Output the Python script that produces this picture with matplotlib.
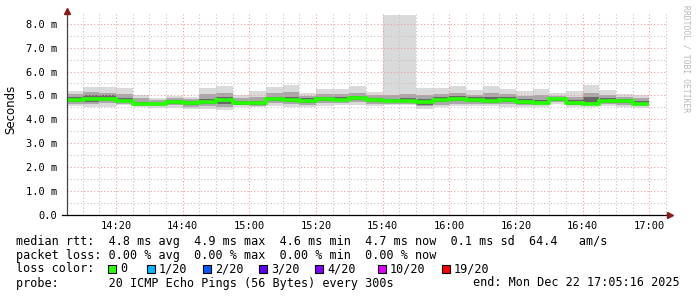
import matplotlib
matplotlib.use('Agg')

import matplotlib.pyplot as plt
from matplotlib.patches import Rectangle
from matplotlib.ticker import FixedLocator, FuncFormatter
import numpy as np

# time axis in minutes after midnight, 5 minute bins (first one partial)
t_start = 14 * 60 + 5 + 16 / 60.0
t_end = 17 * 60 + 5 + 16 / 60.0
bin_edges = [t_start] + list(range(14 * 60 + 10, 17 * 60 + 1, 5))

# median rtt per bin (ms)
median_ms = [4.81, 4.85, 4.87, 4.78, 4.63, 4.63, 4.72, 4.68, 4.73, 4.80, 4.69,
             4.68, 4.85, 4.81, 4.78, 4.85, 4.83, 4.91, 4.83, 4.78, 4.78, 4.72,
             4.80, 4.85, 4.83, 4.78, 4.81, 4.74, 4.68, 4.85, 4.69, 4.63, 4.78,
             4.78, 4.65]
# smoke: max / min ping
ping_max = [5.19, 5.37, 5.37, 5.31, 5.02, 4.90, 4.98, 4.95, 5.33, 5.41, 5.02,
            5.19, 5.34, 5.44, 5.09, 5.27, 5.27, 5.40, 5.15, 8.37, 8.37, 5.31,
            5.31, 5.40, 5.23, 5.40, 5.27, 5.19, 5.27, 5.09, 5.19, 5.44, 5.23,
            5.06, 5.02]
ping_min = [4.56, 4.53, 4.53, 4.60, 4.53, 4.48, 4.49, 4.43, 4.43, 4.39, 4.52,
            4.50, 4.56, 4.53, 4.50, 4.56, 4.60, 4.62, 4.56, 4.60, 4.60, 4.45,
            4.53, 4.56, 4.56, 4.56, 4.53, 4.50, 4.53, 4.64, 4.50, 4.53, 4.56,
            4.50, 4.47]
# middle smoke band
ping_hi2 = [5.05, 5.15, 5.12, 5.05, 4.88, 4.82, 4.90, 4.86, 5.05, 5.10, 4.88,
            4.95, 5.10, 5.15, 4.98, 5.05, 5.05, 5.12, 5.00, 5.00, 5.05, 5.02,
            5.05, 5.12, 5.02, 5.10, 5.05, 4.98, 5.00, 4.98, 4.95, 5.10, 5.02,
            4.95, 4.88]
ping_lo2 = [4.65, 4.65, 4.68, 4.66, 4.57, 4.55, 4.58, 4.53, 4.55, 4.52, 4.58,
            4.57, 4.68, 4.65, 4.62, 4.68, 4.68, 4.72, 4.66, 4.66, 4.66, 4.56,
            4.62, 4.66, 4.66, 4.64, 4.64, 4.60, 4.60, 4.72, 4.58, 4.58, 4.64,
            4.62, 4.55]
# inner smoke band
ping_hi3 = [4.92, 5.00, 5.00, 4.90, 4.74, 4.70, 4.80, 4.76, 4.86, 4.92, 4.78,
            4.78, 4.95, 4.95, 4.88, 4.94, 4.95, 4.98, 4.90, 4.86, 4.88, 4.84,
            4.92, 4.96, 4.92, 4.94, 4.92, 4.84, 4.82, 4.90, 4.82, 4.92, 4.90,
            4.86, 4.76]
ping_lo3 = [4.72, 4.74, 4.76, 4.72, 4.60, 4.58, 4.65, 4.60, 4.63, 4.66, 4.62,
            4.62, 4.76, 4.74, 4.70, 4.76, 4.75, 4.80, 4.74, 4.72, 4.72, 4.62,
            4.72, 4.76, 4.74, 4.70, 4.72, 4.66, 4.64, 4.78, 4.62, 4.60, 4.70,
            4.68, 4.60]

legend_rows = [
    "median rtt:  4.8 ms avg  4.9 ms max  4.6 ms min  4.7 ms now  0.1 ms sd  64.4   am/s",
    "packet loss: 0.00 % avg  0.00 % max  0.00 % min  0.00 % now",
    "loss color:",
    "probe:       20 ICMP Echo Pings (56 Bytes) every 300s",
]
loss_labels = ["0", "1/20", "2/20", "3/20", "4/20", "10/20", "19/20"]
loss_colors = ["#26ff00", "#00b8ff", "#0059ff", "#5e00ff", "#7e00ff", "#dd00ff", "#ff0000"]
end_text = "end: Mon Dec 22 17:05:16 2025"

W, H = 697, 297
mono = 'DejaVu Sans Mono'

def fx(px):
    return px / W

def fy(py):
    return 1 - py / H

fig = plt.figure(figsize=(W / 100, H / 100), dpi=100)
fig.patch.set_facecolor('white')
ymax = 8.4
ax = fig.add_axes([fx(67), fy(215), 600 / W, ymax * 23.91 / H])

edges = np.array(bin_edges, dtype=float)
ax.stairs(ping_max, edges, baseline=ping_min, fill=True, color='#dadada', zorder=1)
ax.stairs(ping_hi2, edges, baseline=ping_lo2, fill=True, color='#a8a8a8', zorder=2)
ax.stairs(ping_hi3, edges, baseline=ping_lo3, fill=True, color='#686868', zorder=3)
ax.stairs(median_ms, edges, baseline=None, color='#26ff00', linewidth=2.6, zorder=6)

ax.set_xlim(t_start, t_end)
ax.set_ylim(0, ymax)

# grid, rrdtool style (drawn over the smoke)
dot = (0, (1, 2))
for m in range(14 * 60 + 10, 17 * 60 + 6, 5):
    major = (m % 20 == 0)
    ax.axvline(m, color='#e8a0a0' if major else '#c4c4c4', linestyle=dot,
               linewidth=0.8, zorder=4)
for v in np.arange(0.5, 8.01, 0.5):
    major = abs(v - round(v)) < 1e-6
    ax.axhline(v, color='#e8a0a0' if major else '#c4c4c4', linestyle=dot,
               linewidth=0.8, zorder=4)

for s in ax.spines.values():
    s.set_visible(False)

# axis lines with arrows
ax.plot([t_start, t_start], [0, ymax + 0.15], color='#444444', linewidth=0.9,
        clip_on=False, zorder=7)
ax.plot([t_start - 1.5, t_end + 1.0], [0, 0], color='black', linewidth=0.9,
        clip_on=False, zorder=7)
ax.plot([t_start], [ymax + 0.15], marker='^', markersize=4, color='#8b1a1a',
        clip_on=False, zorder=8)
ax.plot([t_end + 1.0], [0], marker='>', markersize=4, color='#8b1a1a',
        clip_on=False, zorder=8)

ax.xaxis.set_major_locator(FixedLocator(list(range(14 * 60 + 20, 17 * 60 + 1, 20))))
ax.xaxis.set_major_formatter(FuncFormatter(lambda x, p: "%02d:%02d" % (int(x) // 60, int(x) % 60)))
ax.yaxis.set_major_locator(FixedLocator(list(range(0, 9))))
ax.yaxis.set_major_formatter(FuncFormatter(lambda y, p: "%.1f m" % y if y > 0 else "0.0"))
ax.tick_params(axis='both', length=0, labelsize=7.5, colors='black')
ax.tick_params(axis='x', pad=4)
ax.tick_params(axis='y', pad=7)
for lab in ax.get_xticklabels() + ax.get_yticklabels():
    lab.set_family(mono)

fig.text(fx(11), fy(109), "Seconds", rotation=90, ha='center', va='center',
         fontsize=8.5, family='DejaVu Sans')
fig.text(fx(686), fy(5), "RRDTOOL / TOBI OETIKER", rotation=270, ha='center', va='top',
         fontsize=5.8, family=mono, color='#b8b8b8')

row_y = [241, 255, 269, 283]
for txt, y in zip(legend_rows, row_y):
    fig.text(fx(16), fy(y), txt, ha='left', va='center', fontsize=8.5, family=mono)
fig.text(fx(680), fy(row_y[3]), end_text, ha='right', va='center', fontsize=8.5, family=mono)

box_x = [108, 147, 203, 259, 315, 378, 442]
for bx, lab, col in zip(box_x, loss_labels, loss_colors):
    fig.add_artist(Rectangle((fx(bx), fy(row_y[2] + 4)), 8 / W, 8 / H,
                             transform=fig.transFigure, facecolor=col,
                             edgecolor='black', linewidth=0.8))
    fig.text(fx(bx + 12), fy(row_y[2]), lab, ha='left', va='center',
             fontsize=8.5, family=mono)

fig.savefig('out.png', dpi=100, facecolor='white')
